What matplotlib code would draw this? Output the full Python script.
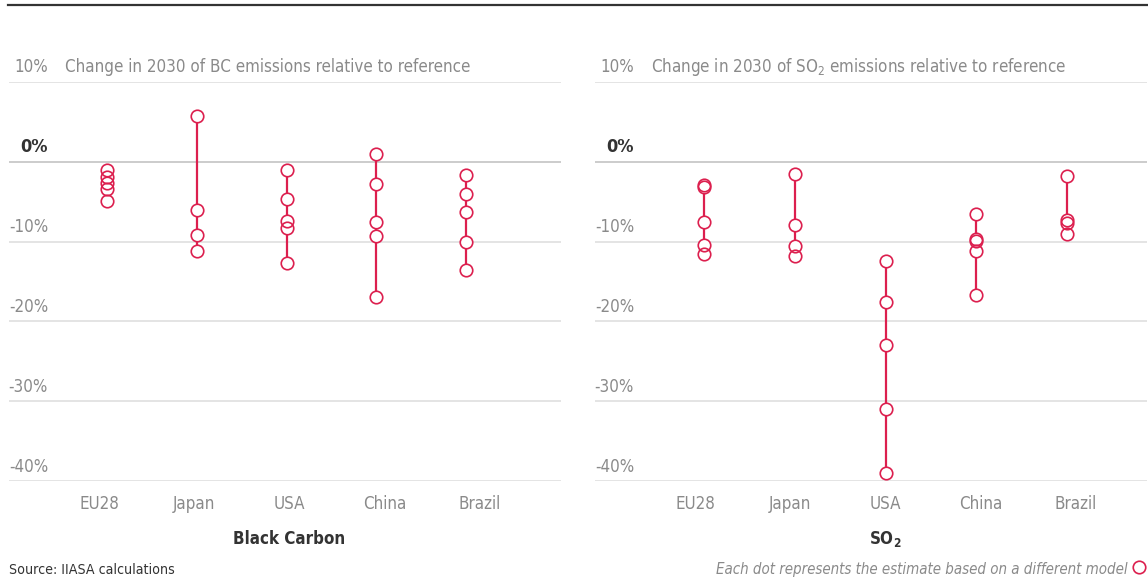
import matplotlib
matplotlib.use("Agg")
import matplotlib.pyplot as plt
import matplotlib.transforms as mtransforms
from matplotlib import font_manager
from matplotlib.lines import Line2D

# =========================
# DATA (change in 2030 relative to reference, %)
# =========================
categories = ["EU28", "Japan", "USA", "China", "Brazil"]

bc_eu28 = [-1.0, -1.9, -2.7, -3.4, -4.9]
bc_japan = [5.8, -6.0, -9.2, -11.2]
bc_usa = [-1.0, -4.7, -7.4, -8.3, -12.7]
bc_china = [1.0, -2.8, -7.6, -9.3, -17.0]
bc_brazil = [-1.7, -4.0, -6.3, -10.0, -13.6]

so2_eu28 = [-2.9, -3.2, -7.6, -10.4, -11.5]
so2_japan = [-1.5, -7.9, -10.5, -11.8]
so2_usa = [-12.4, -17.6, -22.9, -31.0, -39.0]
so2_china = [-6.5, -9.7, -9.95, -11.2, -16.7]
so2_brazil = [-1.8, -7.35, -7.65, -9.1]

y_ticks = [10, 0, -10, -20, -30, -40]
y_ticklabels = ["10%", "0%", "-10%", "-20%", "-30%", "-40%"]

bc_series = [bc_eu28, bc_japan, bc_usa, bc_china, bc_brazil]
so2_series = [so2_eu28, so2_japan, so2_usa, so2_china, so2_brazil]

# =========================
# STYLE
# =========================
names = {f.name for f in font_manager.fontManager.ttflist}
if "Liberation Sans Narrow" in names:
    FONT = "Liberation Sans Narrow"
    STRETCH = "normal"
    k = 1.0
else:
    # DejaVu Sans Condensed is picked up through font.stretch
    FONT = "DejaVu Sans"
    STRETCH = "condensed"
    k = 0.84

plt.rcParams["font.family"] = [FONT, "DejaVu Sans"]
plt.rcParams["font.stretch"] = STRETCH
plt.rcParams["mathtext.default"] = "regular"

RED = "#dc1f4e"
GREY = "#8a8a8a"
DARK = "#333333"

W, H = 1148, 577
fig = plt.figure(figsize=(W / 100, H / 100), dpi=100)


def draw_panel(left_px, series, dot_lim, label_lim, title, xlabel):
    ax = fig.add_axes([left_px / W, 1 - 481 / H, 552 / W, 399 / H])
    ax.set_xlim(*dot_lim)
    ax.set_ylim(-40, 10)
    for s in ax.spines.values():
        s.set_visible(False)
    ax.set_xticks([])
    ax.set_yticks(y_ticks)
    ax.tick_params(axis="y", length=0, labelleft=False)
    ax.grid(axis="y", color="#dcdcdc", lw=1.1)
    ax.axhline(0, color="#9c9c9c", lw=1.4, zorder=1)

    # tick labels sit above the gridlines, right aligned
    lab_tr = mtransforms.offset_copy(ax.get_yaxis_transform(), fig=fig,
                                     x=0, y=9.5, units="dots")
    for v, t in zip(y_ticks, y_ticklabels):
        bold = v == 0
        ax.text(39 / 552, v, t, transform=lab_tr, ha="right", va="baseline",
                fontsize=(15.5 if bold else 14.5) * k,
                color=DARK if bold else GREY,
                fontweight="bold" if bold else "normal")
    ax.text(56 / 552, y_ticks[0], title, transform=lab_tr, ha="left",
            va="baseline", fontsize=14.5 * k, color=GREY)

    for i, vals in enumerate(series):
        xs = [i] * len(vals)
        ax.plot([i, i], [max(vals), min(vals)], color=RED, lw=1.6, zorder=2)
        ax.plot(xs, vals, ls="none", marker="o", ms=9, mfc="white",
                mec="none", zorder=3)
        ax.plot(xs, vals, ls="none", marker="o", ms=9, mfc="none",
                mec=RED, mew=1.2, zorder=4)

    # category labels on a twin axis (slightly wider spacing than the dots)
    ax2 = ax.twiny()
    ax2.set_xlim(*label_lim)
    ax2.set_xticks(range(len(categories)))
    ax2.set_xticklabels(categories, fontsize=14.5 * k, color=GREY)
    ax2.xaxis.set_ticks_position("bottom")
    ax2.tick_params(axis="x", length=0, pad=28 * 0.72)
    for lbl in ax2.get_xticklabels():
        lbl.set_va("baseline")
    for s in ax2.spines.values():
        s.set_visible(False)

    xl_tr = mtransforms.offset_copy(
        mtransforms.blended_transform_factory(ax2.transData, ax2.transAxes),
        fig=fig, x=0, y=-63, units="dots")
    ax2.text(2, 0, xlabel, transform=xl_tr, ha="center", va="baseline",
             fontsize=14.5 * k, fontweight="bold", color=DARK)
    return ax


draw_panel(9, bc_series, (-1.087, 5.053), (-0.945, 4.850),
           "Change in 2030 of BC emissions relative to reference",
           "Black Carbon")
draw_panel(595, so2_series, (-1.205, 4.881), (-1.050, 4.748),
           "Change in 2030 of SO$_2$ emissions relative to reference",
           "SO$_2$")

# top rule
fig.add_artist(Line2D([8 / W, 1], [1 - 5 / H, 1 - 5 / H], color=DARK, lw=1.6))

fig.text(9 / W, 1 - 574 / H, "Source: IIASA calculations",
         fontsize=10.2, color=DARK, ha="left", va="baseline")
fig.text(1128 / W, 1 - 574 / H,
         "Each dot represents the estimate based on a different model",
         fontsize=10.8, color=GREY, style="italic", ha="right",
         va="baseline")
fig.add_artist(Line2D([1139 / W], [1 - 567 / H], ls="none", marker="o",
                      ms=9, mfc="white", mec=RED, mew=1.2))

fig.savefig("out.png", dpi=100, facecolor="white")
